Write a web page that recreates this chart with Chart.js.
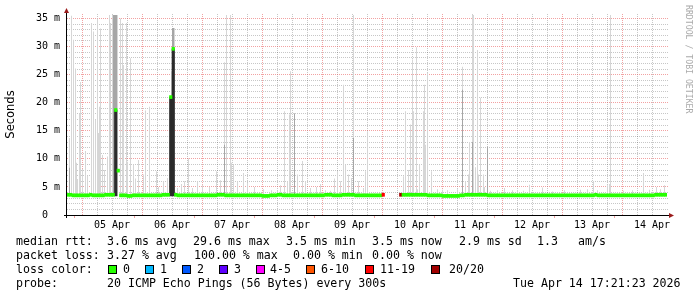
<!DOCTYPE html>
<html>
<head>
<meta charset="utf-8">
<script src="https://cdn.jsdelivr.net/npm/chart.js@4.4.1/dist/chart.umd.min.js"></script>
<style>
  html, body { margin: 0; padding: 0; background: #fff; }
  #wrap { position: relative; width: 697px; height: 297px; overflow: hidden; }
  canvas { position: absolute; left: 0; top: 0; }
  .t { position: absolute; font: 11.6px "DejaVu Sans Mono", monospace; line-height: 14px; white-space: pre; color: #000; }
  .box { position: absolute; top: 265px; width: 9px; height: 9px; box-sizing: border-box; border: 1px solid #000; }
</style>
</head>
<body>
<div id="wrap">
  <canvas id="smokeChart" width="697" height="297"></canvas>

  <span class="t" style="left:16px;top:234px">median rtt:</span>
  <span class="t" style="left:107px;top:234px">3.6 ms avg</span>
  <span class="t" style="left:193px;top:234px">29.6 ms max</span>
  <span class="t" style="left:286px;top:234px">3.5 ms min</span>
  <span class="t" style="left:372px;top:234px">3.5 ms now</span>
  <span class="t" style="left:459px;top:234px">2.9 ms sd</span>
  <span class="t" style="left:537px;top:234px">1.3</span>
  <span class="t" style="left:578px;top:234px">am/s</span>

  <span class="t" style="left:16px;top:248px">packet loss:</span>
  <span class="t" style="left:107px;top:248px">3.27 % avg</span>
  <span class="t" style="left:194px;top:248px">100.00 % max</span>
  <span class="t" style="left:293px;top:248px">0.00 % min</span>
  <span class="t" style="left:372px;top:248px">0.00 % now</span>

  <span class="t" style="left:16px;top:262px">loss color:</span>
  <div id="lossLegend"></div>

  <span class="t" style="left:16px;top:276px">probe:</span>
  <span class="t" style="left:107px;top:276px">20 ICMP Echo Pings (56 Bytes) every 300s</span>
  <span class="t" style="left:513px;top:276px">Tue Apr 14 17:21:23 2026</span>
</div>
<script>
// x axis is in hours, hour 0 = 04 Apr 18:00, 240 h shown
const dayLabels = ['05 Apr', '06 Apr', '07 Apr', '08 Apr', '09 Apr', '10 Apr', '11 Apr', '12 Apr', '13 Apr', '14 Apr'];

// hourly median rtt in ms (null = no answer)
const medianRtt = [
  3.6, 3.6, 3.5, 3.5, 3.5, 3.5, 3.5, 3.5, 3.5, 3.6, 3.5, 3.5, 3.5, 3.5, 3.5, 3.6, 3.6, 3.6, 3.6, 18.7, 7.9, 3.5, 3.5, 3.5,
  3.4, 3.4, 3.5, 3.5, 3.5, 3.5, 3.5, 3.5, 3.5, 3.5, 3.5, 3.5, 3.5, 3.5, 3.6, 3.6, 3.6, 21.0, 29.6, 3.6, 3.5, 3.5, 3.5, 3.5,
  3.5, 3.5, 3.5, 3.5, 3.5, 3.5, 3.5, 3.5, 3.5, 3.5, 3.5, 3.5, 3.6, 3.6, 3.6, 3.5, 3.5, 3.5, 3.5, 3.5, 3.5, 3.5, 3.5, 3.5,
  3.5, 3.5, 3.5, 3.5, 3.5, 3.5, 3.4, 3.4, 3.4, 3.5, 3.5, 3.5, 3.6, 3.6, 3.5, 3.5, 3.5, 3.5, 3.5, 3.5, 3.5, 3.5, 3.5, 3.5,
  3.5, 3.5, 3.5, 3.5, 3.5, 3.5, 3.5, 3.6, 3.6, 3.6, 3.5, 3.5, 3.5, 3.5, 3.6, 3.6, 3.6, 3.6, 3.6, 3.5, 3.5, 3.5, 3.5, 3.5,
  3.5, 3.5, 3.5, 3.5, 3.5, 3.5, 3.6, null, null, null, null, null, null, 3.6, 3.6, 3.6, 3.6, 3.6, 3.6, 3.6, 3.6, 3.6, 3.6, 3.6,
  3.5, 3.5, 3.5, 3.5, 3.5, 3.5, 3.4, 3.4, 3.4, 3.4, 3.4, 3.4, 3.4, 3.5, 3.5, 3.6, 3.6, 3.6, 3.6, 3.6, 3.6, 3.6, 3.6, 3.6,
  3.5, 3.5, 3.5, 3.5, 3.5, 3.5, 3.5, 3.5, 3.5, 3.5, 3.5, 3.5, 3.5, 3.5, 3.5, 3.5, 3.5, 3.5, 3.5, 3.5, 3.5, 3.5, 3.5, 3.5,
  3.5, 3.5, 3.5, 3.5, 3.5, 3.5, 3.5, 3.5, 3.5, 3.5, 3.5, 3.5, 3.5, 3.5, 3.5, 3.5, 3.5, 3.5, 3.5, 3.6, 3.5, 3.5, 3.5, 3.5,
  3.5, 3.5, 3.5, 3.5, 3.5, 3.5, 3.5, 3.5, 3.5, 3.5, 3.5, 3.5, 3.5, 3.5, 3.5, 3.5, 3.5, 3.5, 3.5, 3.6, 3.6, 3.6, 3.6, 3.6
];

// hours where pings were lost, and the loss color used there
const lossHours = [126, 133];
const lossHourColors = ['#ff0000', '#a10000'];

// loss legend
const lossLabels = ['0', '1', '2', '3', '4-5', '6-10', '11-19', '20/20'];
const lossColors = ['#26ff00', '#00b8ff', '#0059ff', '#5e00ff', '#ff00ff', '#ff5500', '#ff0000', '#a10000'];

// smoke: [hour, max ping in ms], drawn from the min ping up
const smokeFloor = 3.4;
const smokeSpikes = [
  [1.0, 13.7], [1.8, 35.5], [2.6, 31.2], [3.4, 26.1], [3.8, 9.3], [4.2, 6.4], [5.0, 18.1], [5.4, 23.7], [6.2, 8.2], [7.4, 11.4],
  [8.2, 7.0], [9.8, 34.2], [10.6, 32.7], [11.4, 17.0], [12.2, 35.0], [12.6, 14.6], [13.0, 19.3], [13.4, 33.2], [14.2, 10.7], [15.0, 8.0],
  [16.2, 10.4], [17.0, 35.6], [17.4, 34.2], [18.2, 35.6], [20.2, 35.6], [21.4, 35.0], [22.2, 34.2], [22.6, 26.7], [23.8, 34.2], [24.2, 9.5],
  [25.4, 27.9], [26.6, 9.0], [27.4, 6.5], [28.6, 9.8], [30.6, 7.2], [31.4, 18.6], [33.0, 19.3], [35.8, 7.8], [36.6, 5.0], [38.6, 6.0],
  [40.2, 6.6], [41.8, 25.6], [43.0, 33.3], [44.2, 4.8], [45.8, 5.5], [47.0, 6.0], [48.6, 10.1], [50.2, 4.8], [52.2, 6.0], [54.2, 5.4],
  [57.0, 5.0], [59.8, 7.8], [61.4, 6.2], [63.0, 27.2], [63.8, 35.6], [65.4, 35.6], [65.8, 9.3], [66.6, 9.0], [68.2, 6.0], [70.6, 7.5],
  [72.2, 5.7], [75.0, 5.0], [78.6, 4.6], [81.8, 4.4], [84.2, 4.3], [85.4, 5.3], [87.0, 18.5], [88.2, 6.0], [89.0, 17.9], [89.4, 25.6],
  [91.0, 18.1], [92.2, 7.2], [94.2, 9.6], [95.4, 6.0], [97.4, 4.8], [99.8, 5.0], [101.4, 5.5], [103.4, 4.4], [105.4, 4.3], [107.0, 6.5],
  [108.2, 7.9], [109.4, 6.0], [110.6, 23.2], [111.4, 9.0], [112.6, 7.2], [113.8, 6.6], [114.6, 35.6], [116.6, 6.0], [118.6, 4.8], [119.4, 7.8],
  [120.2, 14.9], [134.6, 6.9], [135.4, 18.5], [136.6, 8.0], [137.4, 16.1], [138.2, 27.7], [138.6, 18.5], [139.8, 29.9], [140.2, 4.6], [141.0, 9.0],
  [142.6, 18.5], [143.0, 23.2], [143.4, 12.5], [144.2, 25.3], [145.8, 7.8], [148.2, 4.6], [150.2, 4.5], [152.2, 4.4], [156.2, 4.6], [158.2, 26.4],
  [159.4, 6.0], [160.6, 7.2], [161.0, 13.0], [162.2, 35.7], [162.6, 35.6], [163.4, 8.5], [164.2, 29.4], [164.6, 7.2], [165.4, 20.9], [166.6, 7.2],
  [167.0, 5.0], [168.2, 12.2], [169.4, 4.3], [172.2, 4.4], [175.0, 4.8], [178.2, 4.4], [180.2, 4.4], [182.6, 4.3], [185.0, 5.4], [190.2, 4.9],
  [194.2, 4.2], [199.0, 4.4], [205.4, 4.5], [208.2, 4.6], [210.6, 6.0], [212.2, 4.4], [216.2, 5.3], [217.0, 5.5], [217.4, 35.6], [222.6, 4.3],
  [226.2, 4.4], [230.6, 7.5], [233.0, 4.5], [235.8, 5.0], [237.4, 4.6], [239.0, 5.3]
];

// denser part of the smoke
const midHours = [1.0, 18.6, 19.0, 19.4, 19.8, 42.2, 42.6, 63.0, 91.0, 114.6, 158.2, 162.2, 168.2];
const midLow = [3.4, 3.4, 3.4, 3.4, 3.4, 3.4, 3.4, 3.4, 3.4, 3.4, 3.4, 3.4, 3.4];
const midHigh = [8.4, 35.6, 35.6, 35.6, 35.6, 33.3, 33.3, 12.5, 18.1, 13.7, 22.3, 13.0, 12.2];

// hours where most pings sat well above the baseline
const darkHours = [19, 41, 42];
const darkHigh = [18.7, 21.0, 29.6];

const halfBand = 0.27;
const majorGrid = 'rgba(230,70,70,0.5)';
const minorGrid = 'rgba(0,0,0,0.22)';
const axisFont = { family: 'DejaVu Sans Mono', size: 10 };

// loss legend boxes
const boxLeft = [108, 145, 182, 219, 256, 306, 365, 431];
const textLeft = [123, 160, 197, 234, 270, 321, 380, 449];
const legendEl = document.getElementById('lossLegend');
lossLabels.forEach((lab, i) => {
  const b = document.createElement('div');
  b.className = 'box';
  b.style.left = boxLeft[i] + 'px';
  b.style.background = lossColors[i];
  legendEl.appendChild(b);
  const s = document.createElement('span');
  s.className = 't';
  s.style.left = textLeft[i] + 'px';
  s.style.top = '262px';
  s.textContent = lab;
  legendEl.appendChild(s);
});

const isMidnight = v => (v - 6) % 24 === 0;

const rrdFrame = {
  id: 'rrdFrame',
  // dotted rrdtool style grid
  beforeDatasetsDraw(chart) {
    const { ctx, chartArea: a, scales } = chart;
    ctx.save();
    ctx.lineWidth = 1;
    ctx.setLineDash([1, 1]);
    [false, true].forEach(major => {
      ctx.strokeStyle = major ? majorGrid : minorGrid;
      ctx.beginPath();
      scales.y.ticks.forEach(t => {
        if (t.value === 0 || (t.value % 5 === 0) !== major) return;
        const p = Math.floor(scales.y.getPixelForValue(t.value)) + 0.5;
        ctx.moveTo(a.left, p);
        ctx.lineTo(a.right + 2, p);
      });
      scales.x.ticks.forEach(t => {
        if (isMidnight(t.value) !== major) return;
        const p = Math.floor(scales.x.getPixelForValue(t.value)) + 0.5;
        ctx.moveTo(p, a.bottom);
        ctx.lineTo(p, a.top);
      });
      ctx.stroke();
    });
    ctx.restore();
  },
  afterDatasetsDraw(chart) {
    const { ctx, chartArea: a } = chart;
    ctx.save();
    ctx.strokeStyle = '#000';
    ctx.lineWidth = 1;
    ctx.beginPath();
    ctx.moveTo(a.left - 3, a.bottom + 0.5);
    ctx.lineTo(a.right + 3, a.bottom + 0.5);
    ctx.moveTo(a.left - 0.5, a.bottom + 3);
    ctx.lineTo(a.left - 0.5, a.top - 2);
    ctx.stroke();
    ctx.fillStyle = '#9b1c1c';
    ctx.beginPath();
    ctx.moveTo(a.right + 2, a.bottom - 2);
    ctx.lineTo(a.right + 7, a.bottom + 0.5);
    ctx.lineTo(a.right + 2, a.bottom + 3);
    ctx.closePath();
    ctx.fill();
    ctx.beginPath();
    ctx.moveTo(a.left - 3, a.top - 1);
    ctx.lineTo(a.left - 0.5, a.top - 6);
    ctx.lineTo(a.left + 2, a.top - 1);
    ctx.closePath();
    ctx.fill();
    ctx.restore();
  },
  afterDraw(chart) {
    const ctx = chart.ctx;
    ctx.save();
    ctx.translate(688, 5);
    ctx.rotate(Math.PI / 2);
    ctx.fillStyle = '#aaaaaa';
    ctx.font = '8.2px "DejaVu Sans Mono"';
    ctx.textBaseline = 'middle';
    ctx.fillText('RRDTOOL / TOBI OETIKER', 0, 0);
    ctx.restore();
  }
};

new Chart(document.getElementById('smokeChart'), {
  type: 'bar',
  data: {
    datasets: [
      {
        label: 'median',
        order: 0,
        data: medianRtt.map((v, i) => ({ x: i + 0.5, y: v === null ? null : [v - halfBand, v + halfBand] })),
        backgroundColor: c => {
          const k = lossHours.indexOf(c.dataIndex);
          return k >= 0 ? lossHourColors[k] : lossColors[0];
        },
        barThickness: 2.5,
      },
      {
        label: 'dark',
        order: 1,
        data: darkHours.map((h, i) => ({ x: h + 0.5, y: [smokeFloor, darkHigh[i]] })),
        backgroundColor: '#2b2b2b',
        barThickness: 2.5,
      },
      {
        label: 'mid',
        order: 2,
        data: midHours.map((h, i) => ({ x: h, y: [midLow[i], midHigh[i]] })),
        backgroundColor: '#a6a6a6',
        barThickness: 1,
        inflateAmount: 0,
      },
      {
        label: 'smoke',
        order: 3,
        data: smokeSpikes.map(s => ({ x: s[0], y: [smokeFloor, s[1]] })),
        backgroundColor: '#d6d6d6',
        barThickness: 1,
        inflateAmount: 0,
      },
    ],
  },
  options: {
    responsive: false,
    animation: false,
    datasets: { bar: { grouped: false, borderWidth: 0 } },
    layout: { padding: { left: 0, right: 30, top: 14, bottom: 62 } },
    plugins: { legend: { display: false }, tooltip: { enabled: false } },
    scales: {
      x: {
        type: 'linear',
        min: 0,
        max: 240,
        offset: false,
        afterBuildTicks: s => {
          const t = [];
          for (let h = 6; h < 240; h += 6) t.push({ value: h });
          s.ticks = t;
        },
        afterFit: s => { s.height = 20; },
        grid: {
          drawOnChartArea: false,
          tickColor: c => (c.tick && isMidnight(c.tick.value) ? majorGrid : 'rgba(0,0,0,0)'),
          tickLength: 3,
          drawTicks: true,
        },
        border: { display: false },
        ticks: {
          autoSkip: false,
          maxRotation: 0,
          minRotation: 0,
          padding: 1,
          color: '#000',
          font: axisFont,
          callback: v => ((v - 18) % 24 === 0 ? dayLabels[(v - 18) / 24] : ''),
        },
      },
      y: {
        min: 0,
        max: 35.8,
        afterBuildTicks: s => {
          const t = [];
          for (let v = 0; v <= 35; v++) t.push({ value: v });
          s.ticks = t;
        },
        afterFit: s => { s.width = 67; },
        grid: { drawOnChartArea: false, drawTicks: false },
        border: { display: false },
        title: {
          display: true,
          text: 'Seconds',
          color: '#000',
          font: { family: 'DejaVu Sans', size: 11.5 },
          padding: { top: 4, bottom: 4 },
        },
        ticks: {
          autoSkip: false,
          padding: 7,
          color: '#000',
          font: axisFont,
          callback: v => (v % 5 !== 0 ? '' : v === 0 ? '0  ' : v + ' m'),
        },
      },
    },
  },
  plugins: [rrdFrame],
});
</script>
</body>
</html>
